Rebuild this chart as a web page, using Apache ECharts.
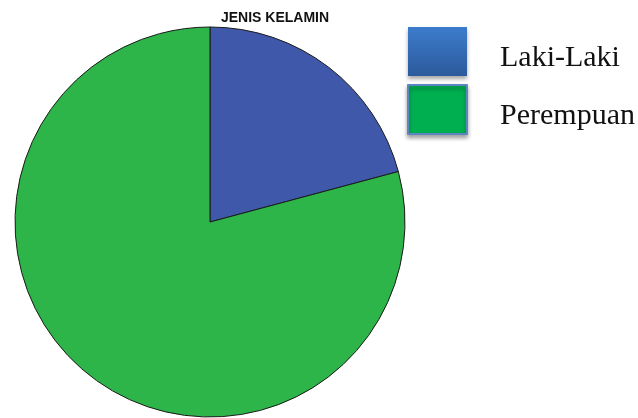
<!DOCTYPE html>
<html>
<head>
<meta charset="utf-8">
<script src="https://cdn.jsdelivr.net/npm/echarts@6/dist/echarts.min.js"></script>
<style>html,body{margin:0;padding:0;background:#fff}#c{width:638px;height:418px}</style>
</head>
<body>
<div id="c"></div>
<script>
const titleText = 'JENIS KELAMIN';
const categories = ['Laki-Laki', 'Perempuan'];
const values = [25, 95];
const sliceColors = ['#3F58AA', '#2DB54A'];

const chart = echarts.init(document.getElementById('c'), null, {renderer: 'canvas'});
const legendStyles = [
  {color: new echarts.graphic.LinearGradient(0, 0, 0, 1, [{offset: 0, color: '#3C7CCC'}, {offset: 1, color: '#2C5A9C'}]),
   borderColor: 'rgba(0,0,0,0)', borderWidth: 0, shadowBlur: 4, shadowOffsetY: 3, shadowColor: 'rgba(0,0,0,0.35)'},
  {color: '#00B050', borderColor: '#5B86C0', borderWidth: 2, shadowBlur: 4, shadowOffsetY: 3, shadowColor: 'rgba(0,0,0,0.35)'}
];
chart.setOption({
  animation: false,
  title: {
    text: titleText, left: 270, top: 6, textAlign: 'center',
    textStyle: {fontFamily: 'Liberation Sans, Arial, sans-serif', fontSize: 14, fontWeight: 'bold', color: '#111'}
  },
  legend: {
    orient: 'vertical', left: 402, top: 22,
    itemWidth: 59, itemHeight: 49, itemGap: 8, icon: 'rect',
    data: categories.map((n, i) => ({name: n, itemStyle: legendStyles[i]})),
    formatter: '{t|{name}}',
    textStyle: {
      fontFamily: 'Liberation Serif, Times New Roman, serif', fontSize: 30, color: '#111',
      rich: {t: {fontFamily: 'Liberation Serif, Times New Roman, serif', fontSize: 30, color: '#111', padding: [14, 0, 0, 28]}}
    }
  },
  series: [{
    type: 'pie', center: [210, 222], radius: 195, startAngle: 90, clockwise: true,
    label: {show: false}, labelLine: {show: false},
    emphasis: {disabled: true},
    itemStyle: {borderColor: '#1a1a1a', borderWidth: 1},
    data: categories.map((n, i) => ({name: n, value: values[i], itemStyle: {color: sliceColors[i]}}))
  }]
});
</script>
</body>
</html>
